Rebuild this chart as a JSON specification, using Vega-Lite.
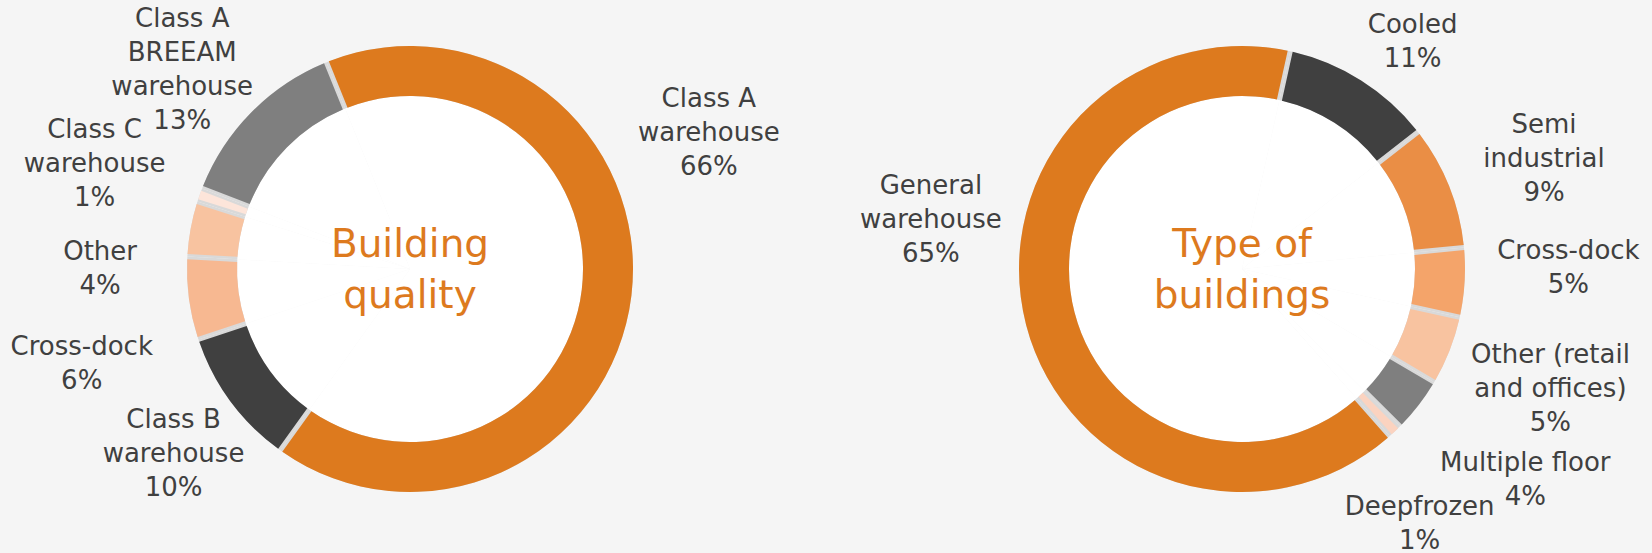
{
  "$schema": "https://vega.github.io/schema/vega-lite/v6.json",
  "width": 1652,
  "height": 538,
  "autosize": {"type": "none"},
  "padding": {"left": 0, "right": 0, "top": 0, "bottom": 15},
  "background": "#F5F5F5",
  "config": {"view": {"stroke": null}, "text": {"font": "DejaVu Sans"}},
  "resolve": {"scale": {"color": "independent", "theta": "independent"}},
  "layer": [
    {
      "data": {"values": [
        {"idx": 1, "name": "Class A warehouse", "value": 66, "label": "Class A\nwarehouse\n66%"},
        {"idx": 2, "name": "Class B warehouse", "value": 10, "label": "Class B\nwarehouse\n10%"},
        {"idx": 3, "name": "Cross-dock", "value": 6, "label": "Cross-dock\n6%"},
        {"idx": 4, "name": "Other", "value": 4, "label": "Other\n4%"},
        {"idx": 5, "name": "Class C warehouse", "value": 1, "label": "Class C\nwarehouse\n1%"},
        {"idx": 6, "name": "Class A BREEAM warehouse", "value": 13, "label": "Class A\nBREEAM\nwarehouse\n13%"}
      ]},
      "layer": [
        {
          "mark": {"type": "arc", "outerRadius": 173, "innerRadius": 0, "color": "#FFFFFF"},
          "encoding": {
            "x": {"datum": "Building quality", "type": "nominal", "scale": {"type": "point", "domain": ["Building quality", "Type of buildings"], "padding": 0.4928}, "axis": null},
            "theta": {"field": "value", "type": "quantitative", "stack": true, "scale": {"range": [-0.384, 5.899]}},
            "order": {"field": "idx", "type": "quantitative"}
          }
        },
        {
          "mark": {"type": "arc", "outerRadius": 223, "innerRadius": 173, "color": "#D9D9D9"},
          "encoding": {
            "x": {"datum": "Building quality", "type": "nominal"},
            "theta": {"field": "value", "type": "quantitative", "stack": true},
            "order": {"field": "idx", "type": "quantitative"}
          }
        },
        {
          "mark": {"type": "arc", "outerRadius": 223, "innerRadius": 173, "padAngle": 0.018},
          "encoding": {
            "x": {"datum": "Building quality", "type": "nominal"},
            "theta": {"field": "value", "type": "quantitative", "stack": true},
            "order": {"field": "idx", "type": "quantitative"},
            "color": {"field": "name", "type": "nominal", "legend": null,
              "scale": {"domain": ["Class A warehouse", "Class B warehouse", "Cross-dock", "Other", "Class C warehouse", "Class A BREEAM warehouse"],
                        "range": ["#DD7A1E", "#404040", "#F7B891", "#F8C3A0", "#FDE5DA", "#7F7F7F"]}}
          }
        },
        {
          "mark": {"type": "text", "radius": 310, "dx": -9, "dy": -207, "lineBreak": "\n", "fontSize": 26, "lineHeight": 34, "color": "#404040", "baseline": "middle", "align": "center"},
          "encoding": {
            "x": {"datum": "Building quality", "type": "nominal"},
            "theta": {"field": "value", "type": "quantitative", "stack": true},
            "order": {"field": "idx", "type": "quantitative"},
            "text": {"condition": {"test": "datum.name === 'Class A warehouse'", "field": "label"}, "value": ""}
          }
        },
        {
          "mark": {"type": "text", "radius": 310, "dx": 13, "dy": -33, "lineBreak": "\n", "fontSize": 26, "lineHeight": 34, "color": "#404040", "baseline": "middle", "align": "center"},
          "encoding": {
            "x": {"datum": "Building quality", "type": "nominal"},
            "theta": {"field": "value", "type": "quantitative", "stack": true},
            "order": {"field": "idx", "type": "quantitative"},
            "text": {"condition": {"test": "datum.name === 'Class B warehouse'", "field": "label"}, "value": ""}
          }
        },
        {
          "mark": {"type": "text", "radius": 310, "dx": -21, "dy": 37, "lineBreak": "\n", "fontSize": 26, "lineHeight": 34, "color": "#404040", "baseline": "middle", "align": "center"},
          "encoding": {
            "x": {"datum": "Building quality", "type": "nominal"},
            "theta": {"field": "value", "type": "quantitative", "stack": true},
            "order": {"field": "idx", "type": "quantitative"},
            "text": {"condition": {"test": "datum.name === 'Cross-dock'", "field": "label"}, "value": ""}
          }
        },
        {
          "mark": {"type": "text", "radius": 310, "dx": -5, "dy": 39, "lineBreak": "\n", "fontSize": 26, "lineHeight": 34, "color": "#404040", "baseline": "middle", "align": "center"},
          "encoding": {
            "x": {"datum": "Building quality", "type": "nominal"},
            "theta": {"field": "value", "type": "quantitative", "stack": true},
            "order": {"field": "idx", "type": "quantitative"},
            "text": {"condition": {"test": "datum.name === 'Other'", "field": "label"}, "value": ""}
          }
        },
        {
          "mark": {"type": "text", "radius": 310, "dx": -23, "dy": -36, "lineBreak": "\n", "fontSize": 26, "lineHeight": 34, "color": "#404040", "baseline": "middle", "align": "center"},
          "encoding": {
            "x": {"datum": "Building quality", "type": "nominal"},
            "theta": {"field": "value", "type": "quantitative", "stack": true},
            "order": {"field": "idx", "type": "quantitative"},
            "text": {"condition": {"test": "datum.name === 'Class C warehouse'", "field": "label"}, "value": ""}
          }
        },
        {
          "mark": {"type": "text", "radius": 310, "dx": -7, "dy": -32, "lineBreak": "\n", "fontSize": 26, "lineHeight": 34, "color": "#404040", "baseline": "middle", "align": "center"},
          "encoding": {
            "x": {"datum": "Building quality", "type": "nominal"},
            "theta": {"field": "value", "type": "quantitative", "stack": true},
            "order": {"field": "idx", "type": "quantitative"},
            "text": {"condition": {"test": "datum.name === 'Class A BREEAM warehouse'", "field": "label"}, "value": ""}
          }
        },
        {
          "data": {"values": [{"title": "Building\nquality"}]},
          "mark": {"type": "text", "dy": -24, "lineBreak": "\n", "fontSize": 39, "lineHeight": 51, "color": "#DD7A1E", "baseline": "middle", "align": "center"},
          "encoding": {
            "x": {"datum": "Building quality", "type": "nominal"},
            "text": {"field": "title"}
          }
        }
      ]
    },
    {
      "data": {"values": [
        {"idx": 1, "name": "Cooled", "value": 11, "label": "Cooled\n11%"},
        {"idx": 2, "name": "Semi industrial", "value": 9, "label": "Semi\nindustrial\n9%"},
        {"idx": 3, "name": "Cross-dock", "value": 5, "label": "Cross-dock\n5%"},
        {"idx": 4, "name": "Other (retail and offices)", "value": 5, "label": "Other (retail\nand offices)\n5%"},
        {"idx": 5, "name": "Multiple floor", "value": 4, "label": "Multiple floor\n4%"},
        {"idx": 6, "name": "Deepfrozen", "value": 1, "label": "Deepfrozen\n1%"},
        {"idx": 7, "name": "General warehouse", "value": 65, "label": "General\nwarehouse\n65%"}
      ]},
      "layer": [
        {
          "mark": {"type": "arc", "outerRadius": 173, "innerRadius": 0, "color": "#FFFFFF"},
          "encoding": {
            "x": {"datum": "Type of buildings", "type": "nominal"},
            "theta": {"field": "value", "type": "quantitative", "stack": true, "scale": {"range": [0.218, 6.501]}},
            "order": {"field": "idx", "type": "quantitative"}
          }
        },
        {
          "mark": {"type": "arc", "outerRadius": 223, "innerRadius": 173, "color": "#D9D9D9"},
          "encoding": {
            "x": {"datum": "Type of buildings", "type": "nominal"},
            "theta": {"field": "value", "type": "quantitative", "stack": true},
            "order": {"field": "idx", "type": "quantitative"}
          }
        },
        {
          "mark": {"type": "arc", "outerRadius": 223, "innerRadius": 173, "padAngle": 0.018},
          "encoding": {
            "x": {"datum": "Type of buildings", "type": "nominal"},
            "theta": {"field": "value", "type": "quantitative", "stack": true},
            "order": {"field": "idx", "type": "quantitative"},
            "color": {"field": "name", "type": "nominal", "legend": null,
              "scale": {"domain": ["Cooled", "Semi industrial", "Cross-dock", "Other (retail and offices)", "Multiple floor", "Deepfrozen", "General warehouse"],
                        "range": ["#404040", "#EA8E45", "#F4A46A", "#F8C3A0", "#7F7F7F", "#FBD3C0", "#DD7A1E"]}}
          }
        },
        {
          "mark": {"type": "text", "radius": 310, "dx": 5, "dy": 18, "lineBreak": "\n", "fontSize": 26, "lineHeight": 34, "color": "#404040", "baseline": "middle", "align": "center"},
          "encoding": {
            "x": {"datum": "Type of buildings", "type": "nominal"},
            "theta": {"field": "value", "type": "quantitative", "stack": true},
            "order": {"field": "idx", "type": "quantitative"},
            "text": {"condition": {"test": "datum.name === 'Cooled'", "field": "label"}, "value": ""}
          }
        },
        {
          "mark": {"type": "text", "radius": 310, "dx": 14, "dy": -29, "lineBreak": "\n", "fontSize": 26, "lineHeight": 34, "color": "#404040", "baseline": "middle", "align": "center"},
          "encoding": {
            "x": {"datum": "Type of buildings", "type": "nominal"},
            "theta": {"field": "value", "type": "quantitative", "stack": true},
            "order": {"field": "idx", "type": "quantitative"},
            "text": {"condition": {"test": "datum.name === 'Semi industrial'", "field": "label"}, "value": ""}
          }
        },
        {
          "mark": {"type": "text", "radius": 310, "dx": 17, "dy": -37, "lineBreak": "\n", "fontSize": 26, "lineHeight": 34, "color": "#404040", "baseline": "middle", "align": "center"},
          "encoding": {
            "x": {"datum": "Type of buildings", "type": "nominal"},
            "theta": {"field": "value", "type": "quantitative", "stack": true},
            "order": {"field": "idx", "type": "quantitative"},
            "text": {"condition": {"test": "datum.name === 'Cross-dock'", "field": "label"}, "value": ""}
          }
        },
        {
          "mark": {"type": "text", "radius": 310, "dx": 20, "dy": -28, "lineBreak": "\n", "fontSize": 26, "lineHeight": 34, "color": "#404040", "baseline": "middle", "align": "center"},
          "encoding": {
            "x": {"datum": "Type of buildings", "type": "nominal"},
            "theta": {"field": "value", "type": "quantitative", "stack": true},
            "order": {"field": "idx", "type": "quantitative"},
            "text": {"condition": {"test": "datum.name === 'Other (retail and offices)'", "field": "label"}, "value": ""}
          }
        },
        {
          "mark": {"type": "text", "radius": 310, "dx": 38, "dy": 4, "lineBreak": "\n", "fontSize": 26, "lineHeight": 34, "color": "#404040", "baseline": "middle", "align": "center"},
          "encoding": {
            "x": {"datum": "Type of buildings", "type": "nominal"},
            "theta": {"field": "value", "type": "quantitative", "stack": true},
            "order": {"field": "idx", "type": "quantitative"},
            "text": {"condition": {"test": "datum.name === 'Multiple floor'", "field": "label"}, "value": ""}
          }
        },
        {
          "mark": {"type": "text", "radius": 310, "dx": -35, "dy": 12, "lineBreak": "\n", "fontSize": 26, "lineHeight": 34, "color": "#404040", "baseline": "middle", "align": "center"},
          "encoding": {
            "x": {"datum": "Type of buildings", "type": "nominal"},
            "theta": {"field": "value", "type": "quantitative", "stack": true},
            "order": {"field": "idx", "type": "quantitative"},
            "text": {"condition": {"test": "datum.name === 'Deepfrozen'", "field": "label"}, "value": ""}
          }
        },
        {
          "mark": {"type": "text", "radius": 310, "dx": -11, "dy": -161, "lineBreak": "\n", "fontSize": 26, "lineHeight": 34, "color": "#404040", "baseline": "middle", "align": "center"},
          "encoding": {
            "x": {"datum": "Type of buildings", "type": "nominal"},
            "theta": {"field": "value", "type": "quantitative", "stack": true},
            "order": {"field": "idx", "type": "quantitative"},
            "text": {"condition": {"test": "datum.name === 'General warehouse'", "field": "label"}, "value": ""}
          }
        },
        {
          "data": {"values": [{"title": "Type of\nbuildings"}]},
          "mark": {"type": "text", "dy": -24, "lineBreak": "\n", "fontSize": 39, "lineHeight": 51, "color": "#DD7A1E", "baseline": "middle", "align": "center"},
          "encoding": {
            "x": {"datum": "Type of buildings", "type": "nominal"},
            "text": {"field": "title"}
          }
        }
      ]
    }
  ]
}
